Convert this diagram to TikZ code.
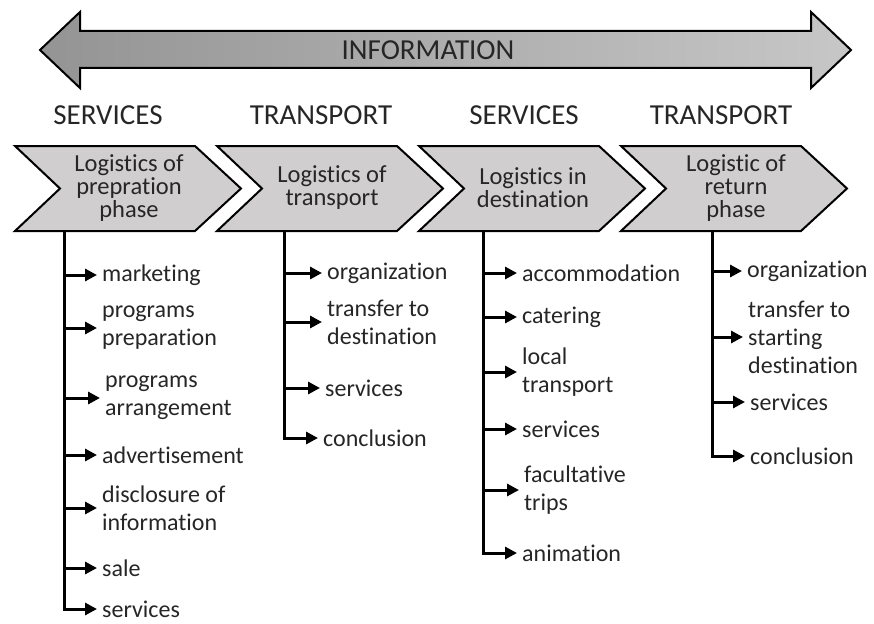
\documentclass[tikz,border=0pt]{standalone}
\usepackage{fontspec}
\setmainfont[Ligatures={NoCommon}]{Carlito}
\usetikzlibrary{arrows.meta,positioning}
\definecolor{chevgray}{RGB}{208,206,206}
\definecolor{txt}{RGB}{38,38,38}

\begin{document}
\begin{tikzpicture}[
    x=1pt,y=-1pt,
    infoarrow/.style={draw,line width=2pt,line join=miter,left color=black!42,right color=black!22},
    chev/.style={draw,line width=2pt,line join=miter,fill=chevgray},
    head/.style={font=\fontsize{29}{32}\selectfont,text=txt},
    phase/.style={align=center,font=\fontsize{24.5}{23}\selectfont,text=txt},
    item/.style={anchor=west,align=left,inner xsep=5pt,inner ysep=0pt,font=\fontsize{24}{28}\selectfont,text=txt},
    arr/.style={line width=3pt,-{Triangle[length=12pt,width=12pt]}}
]
\useasboundingbox (0,0) rectangle (874,623);

% information arrow
\draw[infoarrow] (40,50) -- (80,12) -- (80,31) -- (811,31) -- (811,12) -- (851,50)
    -- (811,88) -- (811,68) -- (80,68) -- (80,88) -- cycle;
\node[head] (info) at (428,50) {INFORMATION};

% headings
\node[head] (h1) at (108,115) {SERVICES};
\node[head] (h2) at (321,115) {TRANSPORT};
\node[head] (h3) at (524,115) {SERVICES};
\node[head] (h4) at (721,115) {TRANSPORT};

% chevrons
\foreach \L in {15,217,419,621}
  \draw[chev] (\L,146) -- (\L+180,146) -- (\L+226,188.5) -- (\L+180,231)
      -- (\L,231) -- (\L+45,188.5) -- cycle;
\node[phase] (prep) at (129,188) {Logistics of\\prepration\\phase};
\node[phase] (trans) at (332,188) {Logistics of\\transport};
\node[phase] (dest) at (533,188) {Logistics in\\destination};
\node[phase] (ret) at (736,188) {Logistic of\\return\\phase};

\coordinate (t1) at (64,231);
\coordinate (t2) at (284,231);
\coordinate (t3) at (483,231);
\coordinate (t4) at (712,231);

% preparation phase
\node[item] (p1) at (97,275) {marketing};
\node[item] (p2) at (97,328) {programs\\preparation};
\node[item] (p3) at (100,398) {programs\\arrangement};
\node[item] (p4) at (97,455) {advertisement};
\node[item] (p5) at (97,508) {disclosure of\\information};
\node[item] (p6) at (97,568) {sale};
\node[item] (p7) at (97,609) {services};
\foreach \n in {p1,p2,p3,p4,p5,p6}
  \draw[arr] (t1 |- \n.west) -- (\n.west);
\draw[arr] (t1) |- (p7);

% transport
\node[item] (r1) at (322,273) {organization};
\node[item] (r2) at (322,322) {transfer to\\destination};
\node[item] (r3) at (320,388) {services};
\node[item] (r4) at (318,438) {conclusion};
\foreach \n in {r1,r2,r3}
  \draw[arr] (t2 |- \n.west) -- (\n.west);
\draw[arr] (t2) |- (r4);

% destination
\node[item] (d1) at (517,273) {accommodation};
\node[item] (d2) at (517,317) {catering};
\node[item] (d3) at (517,372) {local\\transport};
\node[item] (d4) at (517,429) {services};
\node[item] (d5) at (519,490) {facultative\\trips};
\node[item] (d6) at (517,553) {animation};
\foreach \n in {d1,d2,d3,d4,d5}
  \draw[arr] (t3 |- \n.west) -- (\n.west);
\draw[arr] (t3) |- (d6);

% return phase
\node[item] (e1) at (742,271) {organization};
\node[item] (e2) at (743,337) {transfer to\\starting\\destination};
\node[item] (e3) at (745,402) {services};
\node[item] (e4) at (745,456) {conclusion};
\foreach \n in {e1,e2,e3}
  \draw[arr] (t4 |- \n.west) -- (\n.west);
\draw[arr] (t4) |- (e4);
\end{tikzpicture}
\end{document}
